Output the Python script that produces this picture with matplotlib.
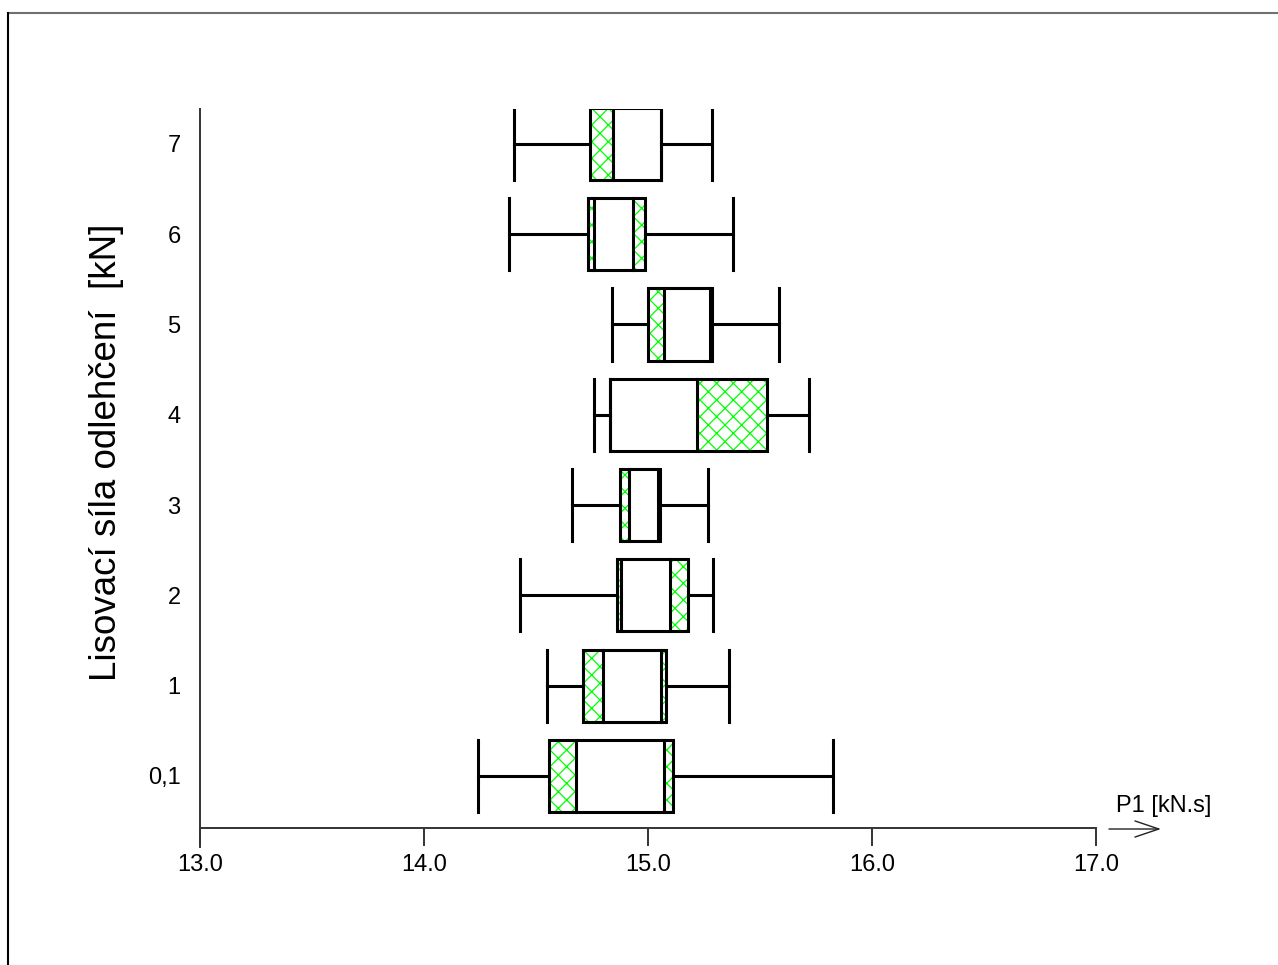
import matplotlib
matplotlib.use("Agg")
import matplotlib.pyplot as plt
from matplotlib.patches import Rectangle
from matplotlib.lines import Line2D

plt.rcParams['font.family'] = ['Liberation Sans', 'DejaVu Sans']
plt.rcParams['hatch.linewidth'] = 0.9

labels = ['0,1', '1', '2', '3', '4', '5', '6', '7']
whisk_lo = [14.24, 14.55, 14.43, 14.66, 14.76, 14.84, 14.38, 14.40]
q1 = [14.56, 14.71, 14.86, 14.875, 14.83, 15.00, 14.73, 14.74]
inner_lo = [14.68, 14.80, 14.88, 14.915, 14.83, 15.07, 14.76, 14.845]
inner_hi = [15.07, 15.06, 15.10, 15.045, 15.22, 15.275, 14.935, 15.058]
q3 = [15.11, 15.08, 15.18, 15.055, 15.53, 15.285, 14.985, 15.058]
whisk_hi = [15.825, 15.36, 15.29, 15.27, 15.72, 15.585, 15.38, 15.285]

W, H = 1278, 965
fig = plt.figure(figsize=(W / 100, H / 100), dpi=100)
ax = fig.add_axes([200 / W, 137 / H, 896 / W, 719 / H])

lw = 2.2
half = 0.4
for i in range(len(labels)):
    y = i
    # whiskers and caps
    ax.plot([whisk_lo[i], q1[i]], [y, y], color='black', lw=lw)
    ax.plot([q3[i], whisk_hi[i]], [y, y], color='black', lw=lw)
    ax.plot([whisk_lo[i], whisk_lo[i]], [y - half, y + half], color='black', lw=lw)
    ax.plot([whisk_hi[i], whisk_hi[i]], [y - half, y + half], color='black', lw=lw)
    # hatched box, white middle part
    ax.add_patch(Rectangle((q1[i], y - half), q3[i] - q1[i], 2 * half,
                           facecolor='white', edgecolor='#00ff00', hatch='xx', lw=0))
    ax.add_patch(Rectangle((inner_lo[i], y - half), inner_hi[i] - inner_lo[i], 2 * half,
                           facecolor='white', edgecolor='none', lw=0))
    for v in (inner_lo[i], inner_hi[i]):
        ax.plot([v, v], [y - half, y + half], color='black', lw=lw)
    ax.add_patch(Rectangle((q1[i], y - half), q3[i] - q1[i], 2 * half,
                           facecolor='none', edgecolor='black', lw=lw))

ax.set_xlim(13, 17)
ax.set_ylim(-0.576, 7.386)
ax.set_xticks([13, 14, 15, 16, 17])
ax.set_xticklabels(['13.0', '14.0', '15.0', '16.0', '17.0'])
ax.set_yticks(range(len(labels)))
ax.set_yticklabels(labels)
ax.tick_params(axis='x', length=13, width=1.4, color='#333333', pad=6, labelsize=17)
ax.tick_params(axis='y', length=0, pad=14, labelsize=17)

for s in ['top', 'right', 'left']:
    ax.spines[s].set_visible(False)
ax.spines['bottom'].set_color('#333333')
ax.spines['bottom'].set_linewidth(1.4)
ax.plot([0, 0], [-19 / 719, 1], transform=ax.transAxes, clip_on=False,
        color='#333333', lw=1.4)

fig.text(107 / W, 1 - 452 / H, 'Lisovací síla odlehčení  [kN]', rotation=90,
         ha='center', va='center', fontsize=26.5)
fig.text(1116 / W, 1 - 806 / H, 'P1 [kN.s]', ha='left', va='center', fontsize=17)
ax.annotate('', xy=(1161, H - 829), xytext=(1109, H - 829),
            xycoords='figure pixels', textcoords='figure pixels',
            arrowprops=dict(arrowstyle='->, head_length=0.86, head_width=0.29',
                            mutation_scale=20, lw=1, color='#222222',
                            shrinkA=0, shrinkB=0))

# frame lines around the picture
fig.add_artist(Line2D([7.5 / W, 1], [1 - 13 / H, 1 - 13 / H], color='#707070', lw=1.5))
fig.add_artist(Line2D([7.5 / W, 7.5 / W], [0, 1 - 13 / H], color='black', lw=1.5))

fig.savefig('out.png', dpi=100)
